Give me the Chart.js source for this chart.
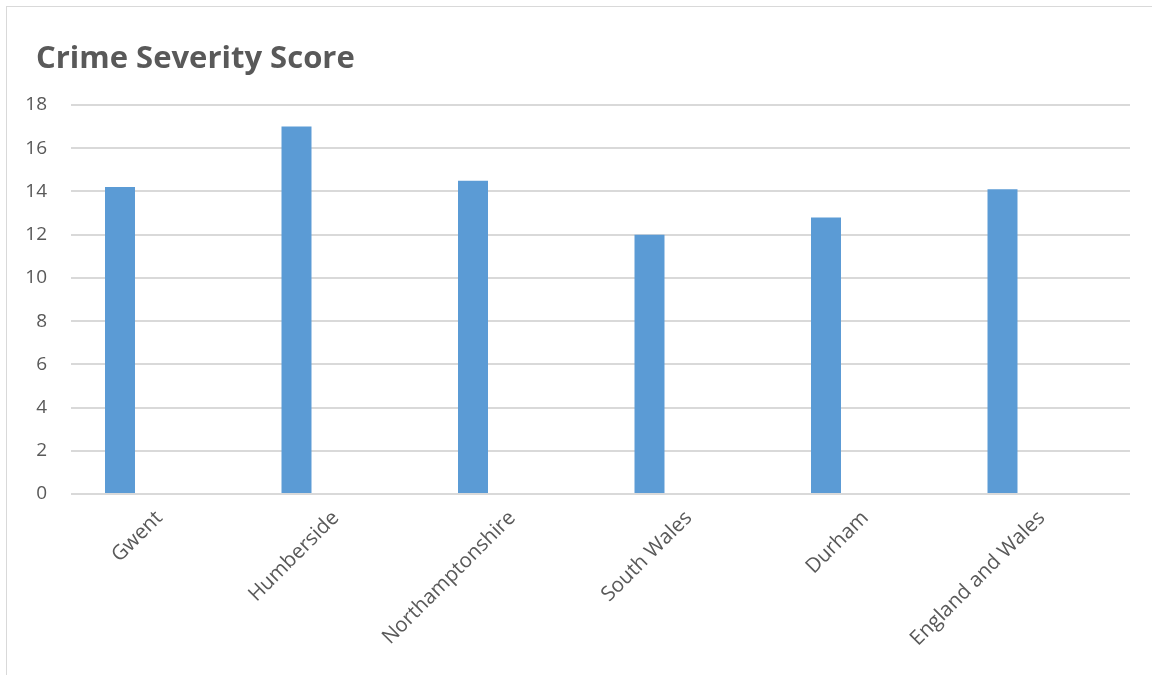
<!DOCTYPE html>
<html>
<head>
<meta charset="utf-8">
<script src="https://cdn.jsdelivr.net/npm/chart.js@4/dist/chart.umd.min.js"></script>
<style>
  html, body { margin: 0; padding: 0; background: #fff; overflow: hidden; }
  #frame { position: absolute; left: 6px; top: 6px; width: 1200px; height: 720px; border: 1.5px solid #d9d9d9; }
  #wrap { position: absolute; left: 0; top: 0; width: 1152px; height: 675px; }
  #title {
    position: absolute; left: 36px; top: 36px; margin: 0;
    font: bold 31px/40px 'Open Sans', 'Noto Sans', sans-serif; color: #595959;
    white-space: nowrap;
  }
</style>
</head>
<body>
<div id="frame"></div>
<div id="wrap"><canvas id="chart-bar"></canvas></div>
<h1 id="title">Crime Severity Score</h1>
<script>
const categories = ['Gwent', 'Humberside', 'Northamptonshire', 'South Wales', 'Durham', 'England and Wales'];
const scoreValues = [14.2, 17.0, 14.5, 12.0, 12.8, 14.1];
// second series in the source workbook is blank, but it still reserves a slot
const blankValues = [null, null, null, null, null, null];
const yTicks = [0, 2, 4, 6, 8, 10, 12, 14, 16, 18];

const textColor = '#595959';
const gridColor = '#d9d9d9';
const font = "'Open Sans', 'Noto Sans', sans-serif";

const ctx = document.getElementById('chart-bar').getContext('2d');

new Chart(ctx, {
  type: 'bar',
  data: {
    labels: categories,
    datasets: [
      {
        label: 'Crime Severity Score',
        data: scoreValues,
        backgroundColor: '#5b9bd5',
        borderWidth: 0,
        categoryPercentage: 0.8895,
        barPercentage: 0.382,
      },
      {
        label: '',
        data: blankValues,
        backgroundColor: '#ed7d31',
        categoryPercentage: 0.8895,
        barPercentage: 0.382,
      },
    ],
  },
  options: {
    responsive: true,
    maintainAspectRatio: false,
    animation: false,
    layout: { padding: { left: 16, right: 22, top: 105, bottom: 0 } },
    plugins: {
      legend: { display: false },
      tooltip: { enabled: false },
      title: { display: false },
    },
    scales: {
      x: {
        grid: { display: false, drawTicks: false },
        border: { display: false },
        ticks: {
          color: textColor,
          font: { family: font, size: 20.5 },
          minRotation: 45,
          maxRotation: 45,
          padding: 12,
        },
        afterFit: (axis) => { axis.height = 181; },
      },
      y: {
        min: 0,
        max: 18,
        afterBuildTicks: (axis) => { axis.ticks = yTicks.map((v) => ({ value: v })); },
        grid: { color: gridColor, lineWidth: 2, drawTicks: false },
        border: { display: false },
        ticks: {
          color: textColor,
          font: { family: font, size: 19 },
          padding: 24,
        },
        afterFit: (axis) => { axis.width = 55; },
      },
    },
  },
});
</script>
</body>
</html>
